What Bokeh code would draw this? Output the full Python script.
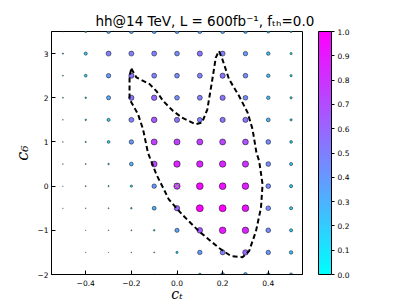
import numpy as np
from bokeh.plotting import figure
from bokeh.models import (ColumnDataSource, LinearColorMapper, ColorBar, FixedTicker, Range1d)
from bokeh.transform import linear_cmap
from bokeh.embed import file_html
from bokeh.resources import INLINE

# ---------------- data ----------------
ct_values = [-0.5, -0.4, -0.3, -0.2, -0.1, 0.0, 0.1, 0.2, 0.3, 0.4, 0.5]
c6_values = [-2.0, -1.5, -1.0, -0.5, 0.0, 0.5, 1.0, 1.5, 2.0, 2.5, 3.0, 3.5]
# one row per c6 value (bottom to top), one entry per c_t value (left to right)
significance = [
    [0.00, 0.00, 0.00, 0.00, 0.01, 0.05, 0.15, 0.30, 0.30, 0.25, 0.20],
    [0.00, 0.005, 0.005, 0.01, 0.02, 0.10, 0.40, 0.50, 0.60, 0.40, 0.25],
    [0.00, 0.005, 0.01, 0.02, 0.05, 0.35, 0.65, 0.90, 0.85, 0.45, 0.20],
    [0.005, 0.01, 0.02, 0.05, 0.30, 0.60, 1.00, 1.00, 0.92, 0.45, 0.20],
    [0.005, 0.02, 0.03, 0.10, 0.40, 0.80, 0.95, 0.92, 0.88, 0.45, 0.20],
    [0.01, 0.02, 0.05, 0.30, 0.70, 0.85, 0.85, 0.85, 0.80, 0.45, 0.20],
    [0.01, 0.03, 0.15, 0.40, 0.75, 0.75, 0.75, 0.72, 0.68, 0.45, 0.15],
    [0.01, 0.05, 0.20, 0.50, 0.65, 0.55, 0.50, 0.55, 0.55, 0.30, 0.10],
    [0.02, 0.05, 0.35, 0.55, 0.60, 0.45, 0.50, 0.55, 0.45, 0.25, 0.10],
    [0.02, 0.15, 0.40, 0.55, 0.50, 0.45, 0.50, 0.55, 0.45, 0.25, 0.10],
    [0.03, 0.20, 0.50, 0.50, 0.50, 0.45, 0.55, 0.50, 0.40, 0.25, 0.10],
    [0.02, 0.10, 0.30, 0.35, 0.35, 0.35, 0.35, 0.35, 0.30, 0.20, 0.10],
]
contour_ct = [-0.200, -0.178, -0.120, -0.090, -0.061, -0.017, 0.022, 0.081, 0.110,
              0.133, 0.155, 0.170, 0.184, 0.199, 0.228, 0.272, 0.309, 0.331, 0.348,
              0.360, 0.375, 0.368, 0.346, 0.316, 0.287, 0.236, 0.184, 0.096, 0.022,
              -0.036, -0.054, -0.090, -0.127, -0.149, -0.171, -0.208, -0.208, -0.200]
contour_c6 = [2.66, 2.46, 2.31, 2.15, 1.93, 1.70, 1.55, 1.40, 1.44,
              1.74, 2.42, 2.91, 3.06, 2.87, 2.42, 2.04, 1.67, 1.29, 0.76,
              0.57, 0.04, -0.49, -1.02, -1.47, -1.61, -1.58, -1.40, -1.02, -0.64,
              -0.30, -0.11, 0.26, 0.75, 1.29, 1.63, 1.97, 2.50, 2.66]
sm_ct = [0.0]
sm_c6 = [0.0]
x_ticks = [-0.4, -0.2, 0.0, 0.2, 0.4]
x_tick_labels = ["\u22120.4", "\u22120.2", "0.0", "0.2", "0.4"]
y_ticks = [-2, -1, 0, 1, 2, 3]
y_tick_labels = ["\u22122", "\u22121", "0", "1", "2", "3"]
cbar_ticks = [0.0, 0.1, 0.2, 0.3, 0.4, 0.5, 0.6, 0.7, 0.8, 0.9, 1.0]
cbar_tick_labels = ["0.0", "0.1", "0.2", "0.3", "0.4", "0.5", "0.6", "0.7", "0.8", "0.9", "1.0"]

# ---------------- build ----------------
xs, ys, vs = [], [], []
for j, c6 in enumerate(c6_values):
    for i, ct in enumerate(ct_values):
        xs.append(ct)
        ys.append(c6)
        vs.append(significance[j][i])
vs_arr = np.array(vs)
sizes = 7.0 * np.sqrt(vs_arr)
src = ColumnDataSource(dict(x=xs, y=ys, v=vs, s=sizes))

cool = ['#%02x%02x%02x' % (int(round(255 * t)), int(round(255 * (1 - t))), 255)
        for t in np.linspace(0, 1, 256)]
mapper = LinearColorMapper(palette=cool, low=0.0, high=1.0)

p = figure(width=407, height=305, x_range=Range1d(-0.55, 0.55), y_range=Range1d(-2.0, 3.5),
           output_backend="svg", toolbar_location=None,
           min_border_left=51, min_border_top=31, min_border_right=105, min_border_bottom=31)
p.title.text = "hh@14 TeV, L = 600fb\u207b\u00b9, f\u209c\u2095=0.0"
p.title.text_font = "DejaVu Sans"
p.title.text_font_size = "13.5px"
p.title.text_font_style = "normal"
p.title.text_color = "black"
p.title.align = "left"
p.title.offset = 44
p.title.standoff = 6

p.grid.visible = False
p.outline_line_color = "black"
p.outline_line_width = 1
p.background_fill_color = "white"
p.border_fill_color = "white"

def style_axis(ax, ticks, labels):
    ax.ticker = FixedTicker(ticks=ticks)
    ax.major_label_overrides = {t: l for t, l in zip(ticks, labels)}
    ax.major_tick_in = 4
    ax.major_tick_out = 0
    ax.minor_tick_line_color = None
    ax.axis_line_color = "black"
    ax.major_tick_line_color = "black"
    ax.major_label_text_font = "DejaVu Sans"
    ax.major_label_text_font_size = "7.5px"
    ax.major_label_text_color = "black"
    ax.major_label_standoff = 3

style_axis(p.xaxis[0], x_ticks, x_tick_labels)
style_axis(p.yaxis[0], y_ticks, y_tick_labels)
p.xaxis[0].axis_label = "c\u209c"
p.yaxis[0].axis_label = "c\u2086"
p.xaxis[0].major_label_standoff = 5
for ax in (p.xaxis[0], p.yaxis[0]):
    ax.axis_label_text_font = "DejaVu Serif"
    ax.axis_label_text_font_style = "italic"
    ax.axis_label_text_color = "black"
ax = p.xaxis[0]
ax.axis_label_text_font_size = "14px"
ax.axis_label_standoff = -3
ax = p.yaxis[0]
ax.axis_label_text_font_size = "16px"
ax.axis_label_standoff = 2

p.scatter(x="x", y="y", size="s", source=src,
          fill_color=linear_cmap("v", cool, 0.0, 1.0),
          line_color="black", line_width=0.5)
p.scatter(x=sm_ct, y=sm_c6, marker="x", size=9, line_color="#999999", line_width=1)
p.line(x=contour_ct, y=contour_c6, line_color="black", line_width=2, line_dash="5 3")

cbar = ColorBar(color_mapper=mapper, width=13, height=243, padding=0, margin=0,
                location=(16, 0),
                ticker=FixedTicker(ticks=cbar_ticks),
                major_label_overrides={t: l for t, l in zip(cbar_ticks, cbar_tick_labels)},
                major_label_text_font="DejaVu Sans", major_label_text_font_size="7.5px",
                major_label_text_color="black",
                major_tick_in=0, major_tick_out=3, major_tick_line_color="black",
                minor_tick_line_color=None, bar_line_color="black",
                border_line_color=None, label_standoff=3)
p.add_layout(cbar, "right")

open("out.html", "w").write(file_html(p, INLINE))
